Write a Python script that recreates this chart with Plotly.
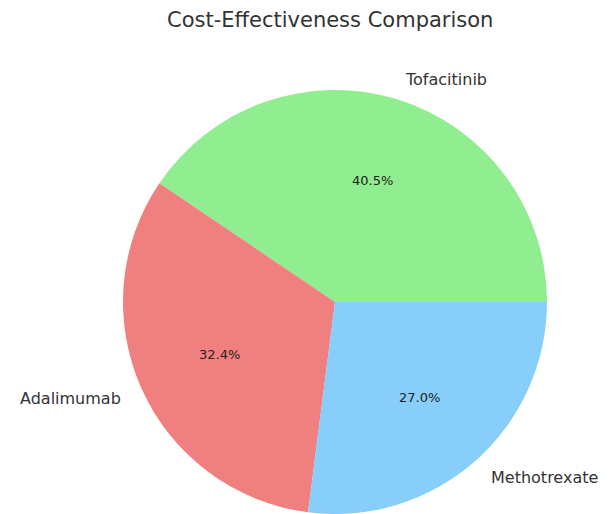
import math
import plotly.graph_objects as go

# Cost-effectiveness shares by treatment
treatments = ["Tofacitinib", "Adalimumab", "Methotrexate"]
shares = [15, 12, 10]
slice_colors = ["#90EE90", "#F08080", "#87CEFA"]

W, H = 613, 514
# pie placement in pixels (circle centre and radius)
cx, cy, r = 335.0, 302.0, 212.0

total = sum(shares)
# first slice begins at 3 o'clock and slices run counterclockwise
first_deg = 360.0 * shares[0] / total

fig = go.Figure(
    go.Pie(
        labels=treatments,
        values=shares,
        marker=dict(colors=slice_colors, line=dict(width=0)),
        sort=False,
        direction="counterclockwise",
        rotation=90 - first_deg,
        textinfo="none",
        hoverinfo="label+percent",
        showlegend=False,
        domain=dict(x=[(cx - r) / W, (cx + r) / W], y=[0, 1 - (cy - r) / H]),
    )
)

# slice labels outside the pie and percentages inside, placed at each slice's mid-angle
start = 0.0
annotations = []
for name, v in zip(treatments, shares):
    frac = v / total
    mid = math.radians((start + frac / 2) * 360)
    start += frac
    ox, oy = math.cos(mid), math.sin(mid)
    # outer label
    lx, ly = cx + 1.1 * r * ox, cy - 1.1 * r * oy
    annotations.append(dict(
        x=lx / W, y=1 - ly / H, xref="paper", yref="paper",
        text=name, showarrow=False,
        xanchor="left" if ox > 0 else "right", yanchor="middle",
        font=dict(size=16, color="#333333"),
    ))
    # percentage label
    px, py = cx + 0.6 * r * ox, cy - 0.6 * r * oy
    annotations.append(dict(
        x=px / W, y=1 - py / H, xref="paper", yref="paper",
        text=f"{frac * 100:.1f}%", showarrow=False,
        xanchor="center", yanchor="middle",
        font=dict(size=13, color="#222222"),
    ))

annotations.append(dict(
    x=330 / W, y=1 - 20 / H, xref="paper", yref="paper",
    text="Cost-Effectiveness Comparison", showarrow=False,
    xanchor="center", yanchor="middle",
    font=dict(size=21, color="#333333"),
))

fig.update_layout(
    width=W, height=H,
    margin=dict(l=0, r=0, t=0, b=0),
    paper_bgcolor="white",
    plot_bgcolor="white",
    font=dict(family="DejaVu Sans"),
    annotations=annotations,
)

fig.write_html("out.html")
